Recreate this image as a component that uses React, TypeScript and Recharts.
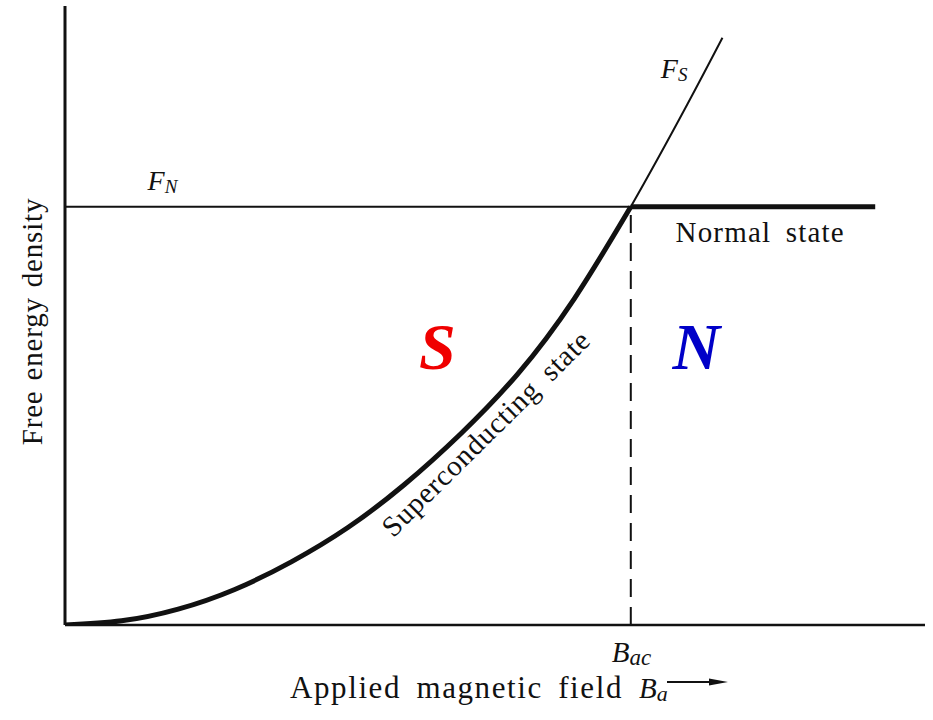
import { LineChart, Line, XAxis, YAxis, ReferenceLine, ReferenceDot } from 'recharts'

// free energy curves, x in units of B_ac, y in units of F_N
const SC_X = [0, 0.1, 0.2, 0.3, 0.4, 0.5, 0.6, 0.7, 0.8, 0.9, 1.0]
const SC_Y = [0, 0.01, 0.038, 0.085, 0.151, 0.233, 0.336, 0.458, 0.6, 0.78, 1.0]
// F_S is the same curve carried on past B_ac
const FS_X = [...SC_X, 1.1, 1.162]
const FS_Y = [...SC_Y, 1.245, 1.404]
const FN_X = [0, 1.0]
const FN_Y = [1.0, 1.0]
const NORMAL_X = [1.0, 1.432]
const NORMAL_Y = [1.0, 1.0]
const B_AC = 1.0
const X_TICKS = [B_AC]
const X_TICK_LABELS = [{ main: 'B', sub: 'ac' }]

const zip = (xs: number[], ys: number[]) => xs.map((x, i) => ({ x, y: ys[i] }))

const superData = zip(SC_X, SC_Y)
const fsData = zip(FS_X, FS_Y)
const fnData = zip(FN_X, FN_Y)
const normalData = zip(NORMAL_X, NORMAL_Y)

const SERIF = '"Liberation Serif", "Times New Roman", serif'
const INK = '#111'

const XTick = ({ x, y, index }: any) => {
  const t = X_TICK_LABELS[index] ?? { main: '', sub: '' }
  return (
    <text x={x - 19} y={y + 37} fontFamily={SERIF} fontStyle="italic" fill={INK}>
      <tspan fontSize={29}>{t.main}</tspan>
      <tspan fontSize={23} dy={3}>{t.sub}</tspan>
    </text>
  )
}

const XLabel = ({ viewBox }: any) => {
  const x0 = viewBox.x
  const y0 = viewBox.y
  return (
    <g fill={INK} fontFamily={SERIF}>
      <text x={x0 + 225} y={y0 + 73} fontSize={31} letterSpacing={1.6} wordSpacing={6}>
        Applied magnetic field
      </text>
      <text x={x0 + 574} y={y0 + 73} fontStyle="italic">
        <tspan fontSize={29}>B</tspan>
        <tspan fontSize={22} dy={3}>a</tspan>
      </text>
      <line x1={x0 + 602} y1={y0 + 57} x2={x0 + 650} y2={y0 + 57} stroke={INK} strokeWidth={2} />
      <polygon points={`${x0 + 644},${y0 + 53.5} ${x0 + 663},${y0 + 57} ${x0 + 644},${y0 + 60.5}`} />
    </g>
  )
}

const YLabel = ({ viewBox }: any) => {
  const cx = viewBox.x - 22
  const cy = viewBox.y + viewBox.height / 2 + 6
  return (
    <text
      x={cx}
      y={cy}
      transform={`rotate(-90, ${cx}, ${cy})`}
      textAnchor="middle"
      fontFamily={SERIF}
      fontSize={29}
      letterSpacing={0.8}
      wordSpacing={2}
      fill={INK}
    >
      Free energy density
    </text>
  )
}

const note = (render: (x: number, y: number) => any) => ({
  content: (p: any) => render(p.viewBox.x, p.viewBox.y),
})

export default function App() {
  return (
    <div style={{ position: 'absolute', left: 0, top: 0, width: 933, height: 720, background: '#fff' }}>
      <LineChart width={933} height={720} margin={{ top: 6, right: 8, left: 64, bottom: 94 }}>
        <XAxis
          type="number"
          dataKey="x"
          domain={[0, 1.52]}
          ticks={X_TICKS}
          height={1}
          tickLine={false}
          tickSize={0}
          tickMargin={0}
          tick={<XTick />}
          axisLine={{ stroke: INK, strokeWidth: 2.5 }}
          allowDataOverflow
          label={{ content: <XLabel /> }}
        />
        <YAxis
          type="number"
          domain={[0, 1.48]}
          width={1}
          tick={false}
          tickLine={false}
          axisLine={{ stroke: INK, strokeWidth: 3 }}
          allowDataOverflow
          label={{ content: <YLabel /> }}
        />
        <ReferenceLine
          segment={[{ x: B_AC, y: 0 }, { x: B_AC, y: 1 }]}
          stroke={INK}
          strokeWidth={2}
          strokeDasharray="18 10"
        />
        <Line data={fnData} dataKey="y" type="linear" stroke={INK} strokeWidth={2} dot={false} activeDot={false} isAnimationActive={false} />
        <Line data={fsData} dataKey="y" type="natural" stroke={INK} strokeWidth={2} dot={false} activeDot={false} isAnimationActive={false} />
        <Line data={normalData} dataKey="y" type="linear" stroke={INK} strokeWidth={5} dot={false} activeDot={false} isAnimationActive={false} />
        <Line data={superData} dataKey="y" type="natural" stroke={INK} strokeWidth={5} dot={false} activeDot={false} isAnimationActive={false} />

        <ReferenceDot
          x={0.146}
          y={1.041}
          r={0}
          fill="none"
          stroke="none"
          label={note((x, y) => (
            <text x={x} y={y} fontFamily={SERIF} fontStyle="italic" fill={INK}>
              <tspan fontSize={28}>F</tspan>
              <tspan fontSize={19} dy={3}>N</tspan>
            </text>
          ))}
        />
        <ReferenceDot
          x={1.053}
          y={1.309}
          r={0}
          fill="none"
          stroke="none"
          label={note((x, y) => (
            <text x={x} y={y} fontFamily={SERIF} fontStyle="italic" fill={INK}>
              <tspan fontSize={28}>F</tspan>
              <tspan fontSize={19} dy={3}>S</tspan>
            </text>
          ))}
        />
        <ReferenceDot
          x={1.079}
          y={0.916}
          r={0}
          fill="none"
          stroke="none"
          label={note((x, y) => (
            <text x={x} y={y} fontFamily={SERIF} fontSize={29} letterSpacing={1.2} wordSpacing={6} fill={INK}>
              Normal state
            </text>
          ))}
        />
        <ReferenceDot
          x={0.58}
          y={0.207}
          r={0}
          fill="none"
          stroke="none"
          label={note((x, y) => (
            <text
              x={x}
              y={y}
              transform={`rotate(-44.6, ${x}, ${y})`}
              fontFamily={SERIF}
              fontSize={29}
              letterSpacing={0.8}
              wordSpacing={6}
              fill={INK}
            >
              Superconducting state
            </text>
          ))}
        />
        <ReferenceDot
          x={0.658}
          y={0.612}
          r={0}
          fill="none"
          stroke="none"
          label={note((x, y) => (
            <text x={x} y={y} textAnchor="middle" fontFamily={SERIF} fontSize={66} fontWeight="bold" fontStyle="italic" fill="#f00000">
              S
            </text>
          ))}
        />
        <ReferenceDot
          x={1.116}
          y={0.612}
          r={0}
          fill="none"
          stroke="none"
          label={note((x, y) => (
            <text x={x} y={y} textAnchor="middle" fontFamily={SERIF} fontSize={66} fontWeight="bold" fontStyle="italic" fill="#0000c8">
              N
            </text>
          ))}
        />
      </LineChart>
    </div>
  )
}
